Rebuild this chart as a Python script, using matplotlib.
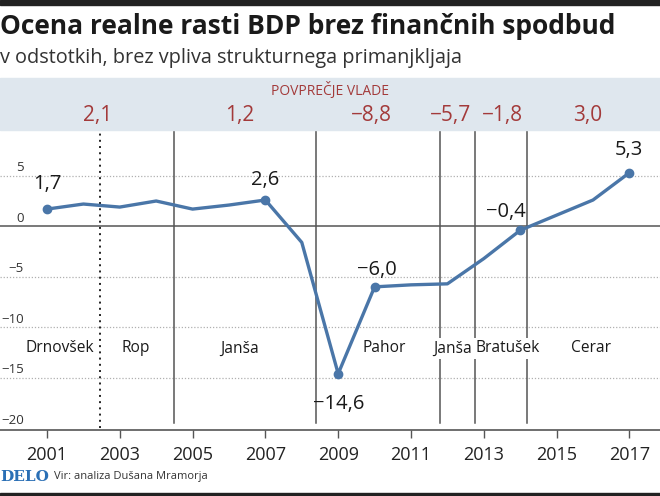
import matplotlib.pyplot as plt

# Ocena realne rasti BDP brez financnih spodbud (v %)
years = [2001, 2002, 2003, 2004, 2005, 2006, 2007, 2008, 2009,
         2010, 2011, 2012, 2013, 2014, 2015, 2016, 2017]
growth = [1.7, 2.2, 1.9, 2.5, 1.7, 2.1, 2.6, -1.6, -14.6,
          -6.0, -5.8, -5.7, -3.2, -0.4, 1.1, 2.6, 5.3]

# labelled points: year -> text
point_labels = {2001: "1,7", 2007: "2,6", 2009: "−14,6",
                2010: "−6,0", 2014: "−0,4", 2017: "5,3"}

# governments
gov_names = ["Drnovšek", "Rop", "Janša", "Pahor", "Janša", "Bratušek", "Cerar"]
gov_name_x = [2001.35, 2003.45, 2006.3, 2010.25, 2012.13, 2013.66, 2015.95]
gov_avg = ["2,1", "1,2", "−8,8", "−5,7", "−1,8", "3,0"]
gov_avg_x = [2002.4, 2006.3, 2009.9, 2012.1, 2013.5, 2015.85]
gov_breaks = [2002.45, 2004.48, 2008.4, 2011.81, 2012.75, 2014.2]

yticks = [5, 0, -5, -10, -15, -20]
xticks = list(range(2001, 2018, 2))

plt.rcParams['font.family'] = ['Open Sans', 'DejaVu Sans']

blue = "#4a76a8"
red = "#a33a3a"
grey = "#555555"

fig = plt.figure(figsize=(6.6, 4.96), dpi=100)
H = 496.0

# top black bar and header
fig.patches.append(plt.Rectangle((0, 1 - 5 / H), 1, 5 / H, transform=fig.transFigure,
                                 color="#222222", zorder=0))
fig.patches.append(plt.Rectangle((0, 1 - 130 / H), 1, 52 / H, transform=fig.transFigure,
                                 color="#dfe7ee", zorder=0))
fig.text(0.0, 1 - 26 / H, "Ocena realne rasti BDP brez finančnih spodbud",
         fontsize=19, fontweight="bold", color="#1a1a1a", va="center", ha="left")
fig.text(0.0, 1 - 58 / H, "v odstotkih, brez vpliva strukturnega primanjkljaja",
         fontsize=14.3, color="#333333", va="center", ha="left")

# axes
ax = fig.add_axes([0, 1 - 430.3 / H, 1, 300.3 / H])
ax.set_xlim(1999.71, 2017.84)
ax.set_ylim(-20.2, 9.53)
ax.patch.set_alpha(0)
for s in ["top", "right", "left"]:
    ax.spines[s].set_visible(False)
ax.spines["bottom"].set_color(grey)
ax.spines["bottom"].set_linewidth(1.2)
ax.set_yticks([])
ax.set_xticks(xticks)
ax.set_xticklabels([str(y) for y in xticks], fontsize=13, color="#222222")
ax.tick_params(axis="x", length=6, width=1, color=grey, pad=5)

for v in yticks:
    if v == 0:
        ax.axhline(0, color=grey, lw=1.1, zorder=1)
    elif v > -20:
        ax.axhline(v, color="#b0b0b0", lw=0.9, ls=(0, (1, 1.5)), zorder=1)
    lbl = str(v).replace("-", "−")
    ax.text(1999.71 + 24 / 36.4, v + 0.8, lbl, ha="right", va="center",
            fontsize=9.5, color="#333333")

# government breaks
for i, b in enumerate(gov_breaks):
    if i == 0:
        ax.plot([b, b], [-20.0, 9.6], color="#222222", lw=1.4, ls=(0, (1, 2.2)),
                zorder=1, clip_on=False)
    else:
        ax.plot([b, b], [-19.5, 9.6], color=grey, lw=1.1, zorder=1, clip_on=False)

for name, x in zip(gov_names, gov_name_x):
    ax.text(x, -12.1, name, ha="center", va="center", fontsize=11.2, color="#1a1a1a",
            zorder=3, bbox=dict(boxstyle="square,pad=0.15", fc="white", ec="none"))

# header averages
fig.text(330 / 660, 1 - 90 / H, "POVPREČJE VLADE", fontsize=10, color=red,
         ha="center", va="center")
for txt, x in zip(gov_avg, gov_avg_x):
    xf = ax.transData.transform((x, 0))[0] / fig.bbox.width
    fig.text(xf, 1 - 115 / H, txt, fontsize=15, color=red, ha="center", va="center")

# line
ax.plot(years, growth, color=blue, lw=2.4, zorder=4, solid_joinstyle="round")
lx = [y for y in years if y in point_labels]
ly = [growth[years.index(y)] for y in lx]
ax.plot(lx, ly, "o", color=blue, ms=6, zorder=5)

offsets = {2001: (0, 1.5, "center", "bottom"), 2007: (0, 1.0, "center", "bottom"),
           2009: (0, -2.0, "center", "top"), 2010: (0.05, 0.7, "center", "bottom"),
           2014: (-0.4, 0.8, "center", "bottom"), 2017: (0, 1.3, "center", "bottom")}
for y, txt in point_labels.items():
    dx, dy, ha, va = offsets[y]
    ax.text(y + dx, growth[years.index(y)] + dy, txt, ha=ha, va=va, fontsize=14.5,
            color="#1a1a1a", zorder=6)

# footer
fig.text(0.0, 1 - 477 / H, "DELO", fontsize=11, fontweight="bold", family="DejaVu Serif",
         color="#2a6fb5", ha="left", va="center")
fig.text(54 / 660, 1 - 477 / H, "Vir: analiza Dušana Mramorja", fontsize=8,
         color="#333333", ha="left", va="center")
fig.patches.append(plt.Rectangle((0, 0), 1, 3 / H, transform=fig.transFigure,
                                 color="#222222", zorder=0))

fig.savefig("out.png", dpi=100)
